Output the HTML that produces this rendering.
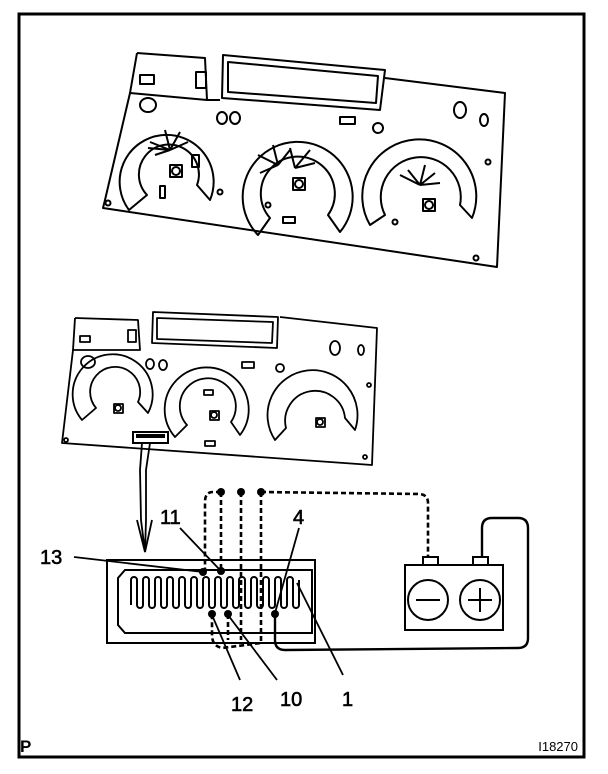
<!DOCTYPE html>
<html><head><meta charset="utf-8"><style>
html,body{margin:0;padding:0;background:#fff;}
svg{display:block;}
text{font-family:"Liberation Sans",Arial,sans-serif;fill:#000;}
</style></head><body>
<svg width="608" height="774" viewBox="0 0 608 774" xmlns="http://www.w3.org/2000/svg">
<rect x="19" y="14" width="565" height="743" fill="none" stroke="#000" stroke-width="3"/>

<!-- Top cluster -->
<g fill="none" stroke="#000" stroke-width="2" stroke-linejoin="round">
  <path d="M137,53 L205,58 L207,100 L130,93 L105,200 L103,208 L497,267 L505,93 L385,78"/>
  <path d="M130,93 L137,53"/>
  <path d="M207,100 L220,100"/>
  <path d="M223,55 L385,70 L380,110 L222,98 Z"/>
  <path d="M228,62 L378,76 L376,103 L228,92 Z"/>
  <rect x="140" y="75" width="14" height="9"/>
  <rect x="196" y="72" width="10" height="16"/>
  <path d="M129,210 A47,47 0 1 1 210,200 L197,185 A30,30 0 1 0 147,195 Z"/>
  <path d="M258,235 A55,55 0 1 1 340,232 L328,215 A37,37 0 1 0 270,218 Z"/>
  <path d="M370,225 A57,57 0 1 1 472,218 L460,205 A40,40 0 1 0 385,215 Z"/>
  <rect x="170" y="165" width="12" height="12"/><circle cx="176" cy="171" r="4"/>
  <rect x="293" y="178" width="12" height="12"/><circle cx="299" cy="184" r="4"/>
  <rect x="423" y="199" width="12" height="12"/><circle cx="429" cy="205" r="4"/>
  <path d="M170,150 l-20,-8 M170,150 l-15,5 M170,150 l-5,-20 M170,150 l10,-18 M170,150 l18,-8 M170,150 l-22,-2"/>
  <path d="M278,165 l-20,-10 M278,165 l-5,-20 M278,165 l12,-15 M295,168 l15,-18 M295,168 l20,-5 M295,168 l-5,-20 M278,165 l-18,8"/>
  <path d="M420,185 l-20,-10 M420,185 l5,-20 M420,185 l15,-12 M420,185 l-12,-15 M420,185 l20,-2"/>
  <ellipse cx="148" cy="105" rx="8" ry="7"/><ellipse cx="222" cy="118" rx="5" ry="6"/><ellipse cx="235" cy="118" rx="5" ry="6"/>
  <ellipse cx="460" cy="110" rx="6" ry="8"/><ellipse cx="484" cy="120" rx="4" ry="6"/><ellipse cx="378" cy="128" rx="5" ry="5"/>
  <rect x="340" y="117" width="15" height="7"/><rect x="192" y="155" width="7" height="12"/><rect x="160" y="186" width="5" height="12"/>
  <rect x="283" y="217" width="12" height="6"/>
  <circle cx="108" cy="203" r="2.5"/><circle cx="220" cy="192" r="2.5"/><circle cx="268" cy="205" r="2.5"/><circle cx="395" cy="222" r="2.5"/><circle cx="476" cy="258" r="2.5"/><circle cx="488" cy="162" r="2.5"/>
</g>

<!-- Second cluster -->
<g fill="none" stroke="#000" stroke-width="1.8" stroke-linejoin="round">
  <path d="M75,318 L138,320 L140,350 L73,350 L62,443 L372,465 L377,328 L280,317"/>
  <path d="M73,350 L75,318"/>
  <path d="M153,312 L278,317 L277,348 L152,343 Z"/>
  <path d="M157,318 L273,322 L272,343 L157,339 Z"/>
  <rect x="80" y="336" width="10" height="6"/><rect x="128" y="330" width="8" height="12"/>
  <path d="M82,420 A40,40 0 1 1 148,413 L138,402 A25,25 0 1 0 96,408 Z"/>
  <path d="M175,437 A42,42 0 1 1 240,435 L231,422 A28,28 0 1 0 187,425 Z"/>
  <path d="M275,440 A45,45 0 1 1 355,430 L345,418 A30,30 0 1 0 286,428 Z"/>
  <rect x="114" y="404" width="9" height="9"/><circle cx="118" cy="408" r="3"/>
  <rect x="210" y="411" width="9" height="9"/><circle cx="214" cy="415" r="3"/>
  <rect x="316" y="418" width="9" height="9"/><circle cx="320" cy="422" r="3"/>
  <ellipse cx="88" cy="362" rx="7" ry="6"/><ellipse cx="150" cy="364" rx="4" ry="5"/><ellipse cx="163" cy="365" rx="4" ry="5"/>
  <ellipse cx="335" cy="348" rx="5" ry="7"/><ellipse cx="361" cy="350" rx="3" ry="5"/><ellipse cx="280" cy="368" rx="4" ry="4"/>
  <rect x="242" y="362" width="12" height="6"/><rect x="204" y="390" width="9" height="5"/><rect x="205" y="441" width="10" height="5"/>
  <circle cx="66" cy="440" r="2"/><circle cx="365" cy="457" r="2"/><circle cx="369" cy="385" r="2"/>
</g>
<rect x="133" y="432" width="35" height="11" fill="none" stroke="#000" stroke-width="2"/>
<rect x="136" y="434" width="29" height="4" fill="#000"/>
<g fill="none" stroke="#000" stroke-width="1.8">
  <path d="M142,443 L140,470 L141,520 L145,552"/>
  <path d="M150,443 L146,470 L146,520 L145,552"/>
  <path d="M137,520 L145,552 L152,520"/>
</g>

<!-- Connector -->
<g fill="none" stroke="#000" stroke-width="2">
  <rect x="107" y="560" width="208" height="83"/>
  <path d="M125,570 L312,570 L312,633 L125,633 L118,625 L118,578 Z"/>
  <path d="M131,605 L131,580 A3,3 0 0 1 137,580 L137,605 A3,3 0 0 0 143,605 L143,580 A3,3 0 0 1 149,580 L149,605 A3,3 0 0 0 155,605 L155,580 A3,3 0 0 1 161,580 L161,605 A3,3 0 0 0 167,605 L167,580 A3,3 0 0 1 173,580 L173,605 A3,3 0 0 0 179,605 L179,580 A3,3 0 0 1 185,580 L185,605 A3,3 0 0 0 191,605 L191,580 A3,3 0 0 1 197,580 L197,605 A3,3 0 0 0 203,605 L203,580 A3,3 0 0 1 209,580 L209,605 A3,3 0 0 0 215,605 L215,580 A3,3 0 0 1 221,580 L221,605 A3,3 0 0 0 227,605 L227,580 A3,3 0 0 1 233,580 L233,605 A3,3 0 0 0 239,605 L239,580 A3,3 0 0 1 245,580 L245,605 A3,3 0 0 0 251,605 L251,580 A3,3 0 0 1 257,580 L257,605 A3,3 0 0 0 263,605 L263,580 A3,3 0 0 1 269,580 L269,605 A3,3 0 0 0 275,605 L275,580 A3,3 0 0 1 281,580 L281,605 A3,3 0 0 0 287,605 L287,580 A3,3 0 0 1 293,580 L293,605 A3,3 0 0 0 299,605 L299,580"/>
  <rect x="405" y="565" width="98" height="65"/>
  <rect x="423" y="557" width="15" height="8"/><rect x="473" y="557" width="15" height="8"/>
  <circle cx="428" cy="600" r="20"/><circle cx="480" cy="600" r="20"/>
  <path d="M416,600 L440,600 M468,600 L492,600 M480,588 L480,612"/>
  <path d="M482,557 L482,528 Q482,518 492,518 L518,518 Q528,518 528,528 L528,638 Q528,648 518,648 L285,650 Q275,650 275,640 L275,614" stroke-width="2.4"/>
</g>
<g fill="none" stroke="#000" stroke-width="2.6" stroke-dasharray="5,3">
  <path d="M221,492 L213,492 Q205,492 205,502 L205,572"/>
  <path d="M221,492 L221,572"/>
  <path d="M241,492 L241,640"/>
  <path d="M261,492 L261,643 L222,648 Q212,646 212,635 L212,614"/>
  <path d="M228,614 L228,640"/>
  <path d="M261,492 L420,494 Q428,495 428,503 L428,557"/>
</g>
<g fill="#000">
  <circle cx="221" cy="492" r="4"/><circle cx="241" cy="492" r="4"/><circle cx="261" cy="492" r="4"/>
  <circle cx="203" cy="572" r="4"/><circle cx="221" cy="571" r="4"/>
  <circle cx="212" cy="614" r="4"/><circle cx="228" cy="614" r="4"/><circle cx="275" cy="614" r="4"/>
</g>
<g stroke="#000" stroke-width="1.8">
  <line x1="74" y1="557" x2="203" y2="572"/>
  <line x1="180" y1="528" x2="220" y2="570"/>
  <line x1="299" y1="528" x2="275" y2="613"/>
  <line x1="240" y1="680" x2="212" y2="615"/>
  <line x1="277" y1="680" x2="228" y2="615"/>
  <line x1="343" y1="675" x2="297" y2="583"/>
</g>
<g font-size="20" stroke="#000" stroke-width="0.6">
  <text x="40" y="564">13</text>
  <text x="160" y="524">11</text>
  <text x="293" y="524">4</text>
  <text x="231" y="711">12</text>
  <text x="280" y="706">10</text>
  <text x="342" y="706">1</text>
</g>
<text x="20" y="752" font-size="17" font-weight="bold">P</text>
<text x="578" y="751" font-size="13" text-anchor="end">I18270</text>
</svg>
</body></html>
